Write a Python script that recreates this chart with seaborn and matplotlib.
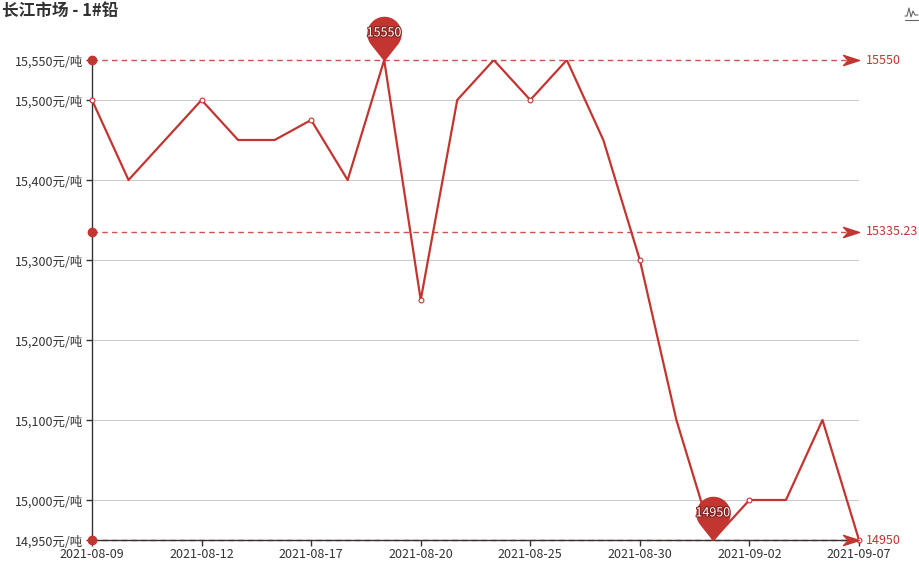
import numpy as np
import pandas as pd
import seaborn as sns
import matplotlib.pyplot as plt
import matplotlib.patheffects as pe
from matplotlib.path import Path
from matplotlib.lines import Line2D

# trading days and price of 1# lead, Changjiang market
dates = ['2021-08-09', '2021-08-10', '2021-08-11', '2021-08-12', '2021-08-13',
         '2021-08-16', '2021-08-17', '2021-08-18', '2021-08-19', '2021-08-20',
         '2021-08-23', '2021-08-24', '2021-08-25', '2021-08-26', '2021-08-27',
         '2021-08-30', '2021-08-31', '2021-09-01', '2021-09-02', '2021-09-03',
         '2021-09-06', '2021-09-07']
prices = [15500, 15400, 15450, 15500, 15450, 15450, 15475, 15400, 15550, 15250,
          15500, 15550, 15500, 15550, 15450, 15300, 15100, 14950, 15000, 15000,
          15100, 14950]
y_ticks = [14950, 15000, 15100, 15200, 15300, 15400, 15500, 15550]
grid_lines = [15000, 15100, 15200, 15300, 15400, 15500]
title = '长江市场 - 1#铅'
label_step = 3

sns.set_theme(style='white')
plt.rcParams['font.family'] = ['Noto Sans CJK SC', 'DejaVu Sans']

red = '#c23531'
txt = '#333333'

df = pd.DataFrame({'pos': np.arange(len(dates)), 'date': dates, 'price': prices})
n = len(df)


def pin_path():
    c, r = 1.0, 0.62
    a = np.arccos(r / c)
    th = np.linspace(-np.pi / 2 + a, 3 * np.pi / 2 - a, 80)
    verts = [(0, 0)] + [(r * np.cos(t), c + r * np.sin(t)) for t in th] + [(0, 0)]
    return Path(verts, closed=True)


def arrow_path():
    verts = [(0, 0), (-1, 0.32), (-0.7, 0), (-1, -0.32), (0, 0)]
    return Path(verts, closed=True)


def fmt(v):
    return ('%.2f' % v).rstrip('0').rstrip('.')


fig = plt.figure(figsize=(9.19, 5.67), dpi=100)
ax = fig.add_axes([92 / 919, 1 - 540 / 567, (859 - 92) / 919, 480 / 567])

for g in grid_lines:
    ax.axhline(g, color='#cccccc', lw=0.8, zorder=0)

sns.lineplot(data=df, x='pos', y='price', color=red, lw=1.6, ax=ax, zorder=3)
sns.scatterplot(data=df.iloc[::label_step], x='pos', y='price', marker='o', s=12,
                color='white', edgecolor=red, linewidth=0.8, ax=ax, zorder=4,
                clip_on=False)

# mark lines: max, mean, min
marks = [df.price.max(), df.price.mean(), df.price.min()]
for v in marks:
    ax.plot([0, n - 1], [v, v], color=red, lw=1, ls=(0, (4, 3)), alpha=0.85,
            zorder=2, clip_on=False)
    ax.plot([0], [v], 'o', color=red, ms=6, zorder=6, clip_on=False)
    ax.plot([n - 1], [v], marker=arrow_path(), color=red, ms=23, zorder=6,
            clip_on=False, ls='none')
    ax.annotate(fmt(v), (n - 1, v), xytext=(5, 0), textcoords='offset points',
                va='center', ha='left', color=red, fontsize=9, annotation_clip=False)

# mark points: pins at max and min
for i in [df.price.idxmax(), df.price.idxmin()]:
    x, y = df.pos[i], df.price[i]
    ax.plot([x], [y], marker=pin_path(), color=red, ms=62, zorder=7,
            clip_on=False, ls='none')
    ax.annotate(fmt(y), (x, y), xytext=(0, 19.5), textcoords='offset points',
                ha='center', va='center', color='white', fontsize=9, zorder=8,
                annotation_clip=False,
                path_effects=[pe.withStroke(linewidth=1.5, foreground='#7d1f1c')])

ax.set_xlim(0, n - 1)
ax.set_ylim(y_ticks[0], y_ticks[-1])
ax.set_yticks(y_ticks)
ax.set_yticklabels(['{:,}元/吨'.format(v) for v in y_ticks])
ax.set_xticks(df.pos[::label_step])
ax.set_xticklabels(df.date[::label_step])
ax.set_xlabel('')
ax.set_ylabel('')

for s in ['top', 'right']:
    ax.spines[s].set_visible(False)
for s in ['left', 'bottom']:
    ax.spines[s].set_color(txt)
    ax.spines[s].set_linewidth(1)
ax.tick_params(bottom=True, left=True, length=4, width=1, color=txt,
               labelcolor=txt, labelsize=9, pad=2)

fig.text(2 / 919, 1 - 12 / 567, title, fontsize=12, fontweight='bold',
         va='center', ha='left', color=txt)

# small toolbox icon, top right
ix = np.array([905, 907, 909, 911, 913, 915, 918]) / 919
iy = 1 - np.array([16, 16, 8, 17, 11, 15, 15]) / 567
fig.add_artist(Line2D(ix, iy, color='#666666', lw=0.8, transform=fig.transFigure))
fig.add_artist(Line2D([905 / 919, 918 / 919], [1 - 20 / 567] * 2, color='#666666',
                      lw=0.8, transform=fig.transFigure))

fig.savefig('out.png', dpi=100)
